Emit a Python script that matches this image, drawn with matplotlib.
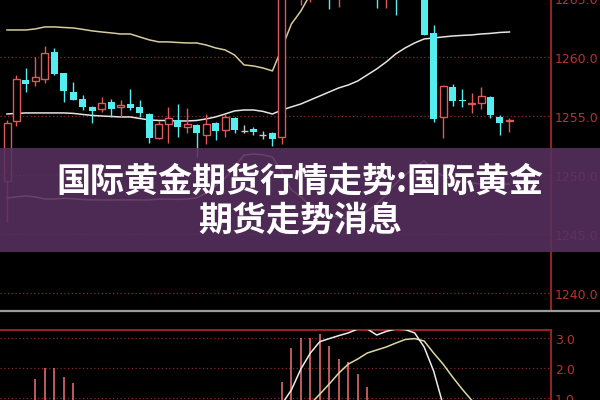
import matplotlib
matplotlib.use("Agg")
import matplotlib.pyplot as plt
from matplotlib.patches import Rectangle
from matplotlib.lines import Line2D
import numpy as np

# ── data ──────────────────────────────────────────────────────────────────────
opens = [1249.5, 1254.58, 1258.03, 1257.94, 1258.14, 1260.42, 1258.59, 1256.98, 1256.39, 1255.76,
         1255.54, 1256.19, 1255.71, 1255.99, 1255.71, 1255.14, 1253.08, 1254.30, 1254.64, 1254.07,
         1254.21, 1253.36, 1254.41, 1253.79, 1254.78, 1253.73, 1253.90, 1253.36, 1253.56, 1253.17,
         1266.8, 1265.5, 1266.5, 1268.0, 1268.5, 1266.8, 1268.6, 1269.5, 1268.8, 1269.0,
         1267.4, 1268.5, 1267.3, 1267.8, 1267.0, 1261.98, 1254.86, 1257.46, 1256.30, 1256.00,
         1256.05, 1256.61, 1254.86, 1254.55]
highs = [1254.6, 1258.48, 1259.02, 1259.95, 1260.91, 1260.76, 1258.62, 1257.88, 1256.75, 1255.80,
         1256.61, 1256.39, 1256.33, 1257.24, 1256.33, 1255.20, 1254.58, 1255.71, 1255.97, 1255.63,
         1254.25, 1255.14, 1254.45, 1255.14, 1254.92, 1254.21, 1254.07, 1253.70, 1253.60, 1267.0,
         1267.5, 1267.8, 1268.6, 1269.5, 1269.0, 1269.2, 1270.2, 1270.5, 1270.0, 1269.6,
         1269.3, 1269.0, 1268.7, 1268.4, 1267.3, 1262.69, 1257.60, 1257.69, 1257.24, 1256.90,
         1257.46, 1256.65, 1255.06, 1254.78]
lows = [1246.0, 1254.13, 1257.03, 1257.52, 1257.75, 1258.45, 1256.19, 1256.30, 1255.48, 1254.41,
        1255.34, 1254.86, 1254.92, 1255.48, 1254.86, 1252.71, 1253.00, 1252.66, 1253.22, 1253.56,
        1251.50, 1252.60, 1252.94, 1253.17, 1253.56, 1253.56, 1253.36, 1253.00, 1252.43, 1252.60,
        1265.2, 1264.4, 1264.6, 1267.0, 1264.0, 1264.2, 1267.8, 1268.0, 1267.5, 1264.1,
        1264.1, 1263.5, 1266.0, 1265.8, 1261.84, 1254.49, 1253.08, 1255.82, 1255.76, 1255.20,
        1255.54, 1254.78, 1253.36, 1253.64]
closes = [1254.4, 1258.11, 1257.66, 1258.31, 1260.29, 1258.53, 1257.12, 1256.33, 1255.71, 1255.42,
          1256.05, 1255.57, 1255.88, 1255.65, 1255.25, 1253.14, 1254.30, 1254.78, 1254.07, 1254.30,
          1253.51, 1254.30, 1253.73, 1254.86, 1253.79, 1253.73, 1253.62, 1253.36, 1253.00, 1266.5,
          1266.0, 1267.0, 1268.0, 1268.8, 1267.0, 1268.5, 1269.6, 1268.9, 1269.2, 1267.5,
          1268.6, 1267.2, 1268.0, 1267.0, 1261.84, 1254.69, 1257.52, 1256.25, 1256.20, 1256.10,
          1256.67, 1255.06, 1254.36, 1254.60]

boll_mid = [1255.14, 1255.19, 1255.23, 1255.23, 1255.23, 1255.23, 1255.23, 1255.19, 1255.10, 1255.02,
            1254.97, 1254.93, 1254.89, 1254.89, 1254.76, 1254.64, 1254.59, 1254.59, 1254.55, 1254.55,
            1254.59, 1254.72, 1254.89, 1255.14, 1255.40, 1255.48, 1255.48, 1255.36, 1255.14, 1255.48,
            1255.74, 1255.99, 1256.33, 1256.67, 1257.01, 1257.35, 1257.60, 1257.94, 1258.45, 1258.96,
            1259.55, 1260.23, 1260.74, 1261.16, 1261.50, 1261.58, 1261.67, 1261.75, 1261.80, 1261.84,
            1261.92, 1261.97, 1262.05, 1262.09]
boll_up = [1262.26, 1262.26, 1262.26, 1262.35, 1262.52, 1262.52, 1262.47, 1262.43, 1262.31, 1262.18,
           1262.09, 1262.01, 1261.92, 1261.92, 1261.67, 1261.42, 1261.25, 1261.25, 1261.20, 1261.16,
           1261.16, 1260.99, 1260.74, 1260.57, 1260.14, 1259.30, 1259.21, 1259.04, 1258.79, 1260.74,
           1262.77, 1263.87, 1265.3, 1266.5, 1267.5, 1268.3, 1269.0, 1269.5, 1270.0, 1270.4,
           1270.8, 1271.2, 1271.5, 1271.7, 1271.8, 1272.9, 1273.4, 1273.7, 1274.2, 1274.3,
           1274.6, 1274.7, 1274.9, 1275.0]
boll_dn = [1248.02, 1248.12, 1248.20, 1248.11, 1247.94, 1247.94, 1247.99, 1247.95, 1247.89, 1247.86,
           1247.85, 1247.85, 1247.86, 1247.86, 1247.85, 1247.86, 1247.93, 1247.93, 1247.90, 1247.94,
           1248.02, 1248.45, 1249.04, 1249.71, 1250.66, 1251.66, 1251.75, 1251.68, 1251.49, 1250.22,
           1248.71, 1248.11, 1247.36, 1246.84, 1246.52, 1246.40, 1246.20, 1246.38, 1246.90, 1247.50,
           1248.30, 1249.26, 1249.98, 1250.60, 1251.20, 1250.30, 1249.90, 1249.60, 1249.40, 1249.30,
           1249.20, 1249.20, 1249.20, 1249.20]

# lower indicator panel
ind_bar = [0.6, 0.8, 0.9, 1.63, 2.0, 2.0, 1.7, 1.5, 0.8, 0.5,
           0.4, 0.3, 0.3, 0.2, 0.2, 0.1, 0.1, 0.2, 0.2, 0.1,
           0.1, 0.2, 0.2, 0.3, 0.3, 0.2, 0.2, 0.3, 0.3, 1.53,
           2.67, 3.0, 3.0, 3.13, 2.73, 2.3, 2.2, 1.8, 1.37, 0.8,
           0.6, 0.5, 0.4, 0.3, 0.2, 0.1, 0.1, 0.2, 0.2, 0.1,
           0.1, 0.1, 0.1, 0.1]
ind_k = [0.5, 0.6, 0.7, 0.8, 0.85, 0.8, 0.7, 0.6, 0.5, 0.4,
         0.35, 0.3, 0.3, 0.3, 0.3, 0.25, 0.25, 0.3, 0.3, 0.3,
         0.3, 0.3, 0.3, 0.35, 0.35, 0.35, 0.35, 0.35, 0.4, 0.8,
         1.27, 1.97, 2.5, 2.88, 2.98, 3.08, 3.17, 3.3, 3.3, 3.1,
         3.22, 3.3, 3.28, 3.17, 2.7, 1.9, 0.77, 0.5, 0.4, 0.35,
         0.3, 0.3, 0.3, 0.3]
ind_d = [0.4, 0.45, 0.5, 0.55, 0.6, 0.65, 0.65, 0.6, 0.55, 0.5,
         0.45, 0.4, 0.4, 0.35, 0.35, 0.3, 0.3, 0.3, 0.3, 0.3,
         0.3, 0.3, 0.3, 0.3, 0.3, 0.3, 0.3, 0.3, 0.3, 0.35,
         0.45, 0.6, 0.8, 1.13, 1.47, 1.83, 2.13, 2.3, 2.5, 2.6,
         2.7, 2.83, 2.95, 2.98, 2.9, 2.5, 2.13, 1.7, 1.3, 0.93,
         0.7, 0.55, 0.45, 0.4]

price_levels = [1240.0, 1245.0, 1250.0, 1255.0, 1260.0, 1265.0]
ind_levels = [1.0, 2.0, 3.0]
title_lines = ["国际黄金期货行情走势:国际黄金", "期货走势消息"]

# ── colours ──────────────────────────────────────────────────────────────────
BG = "black"
UP = "#e05858"
DOWN = "#55eef0"
DOJI = "#c8c8c8"
AXRED = "#9a2222"
GRIDRED = "#8a2a2a"
LBLRED = "#b83232"

x = np.arange(len(opens))
o = np.array(opens); c = np.array(closes)
h = np.array(highs); l = np.array(lows)

fig = plt.figure(figsize=(6, 4), dpi=100, facecolor=BG)
ax = fig.add_axes([0, 0.225, 0.9183, 0.775], facecolor=BG)
ax2 = fig.add_axes([0, 0, 0.9183, 0.175], facecolor=BG)

for a in (ax, ax2):
    a.set_xlim(-0.74, 57.38)
    a.set_xticks([]); a.set_yticks([])
    for s in ("left", "bottom", "top"):
        a.spines[s].set_visible(False)
    a.spines["right"].set_color(AXRED)
    a.spines["right"].set_linewidth(1.4)
ax2.spines["top"].set_visible(True)
ax2.spines["top"].set_color(AXRED)
ax2.spines["top"].set_linewidth(1.4)

ax.set_ylim(1238.53, 1264.80)
ax2.set_ylim(0.933, 3.267)

# grid + right labels
for lv in price_levels:
    ax.axhline(lv, color=GRIDRED, lw=0.9, ls=(0, (1, 2)), zorder=1)
    ax.annotate(f"{lv:.1f}", xy=(1, lv), xycoords=("axes fraction", "data"),
                xytext=(3, -1.8), textcoords="offset points", va="center", ha="left",
                color=LBLRED, fontsize=9, annotation_clip=False)
for lv in ind_levels:
    ax2.axhline(lv, color=GRIDRED, lw=0.9, ls=(0, (1, 2)), zorder=1)
    ax2.annotate(f"{lv:.1f}", xy=(1, lv), xycoords=("axes fraction", "data"),
                 xytext=(3, -1.8), textcoords="offset points", va="center", ha="left",
                 color=LBLRED, fontsize=9, annotation_clip=False)

# bollinger lines
ax.plot(x, boll_up, color="#d6cc9e", lw=1.1, zorder=2)
ax.plot(x, boll_dn, color="#d6cc9e", lw=1.1, zorder=2)
ax.plot(x, boll_mid, color="#e4e4e4", lw=1.1, zorder=2)

# candles
up = c > o
dn = c < o
dj = c == o
w = 0.74
ax.vlines(x[up], l[up], h[up], color=UP, lw=1, zorder=3)
ax.bar(x[up], c[up] - o[up], bottom=o[up], width=w, facecolor=BG,
       edgecolor=UP, lw=1, zorder=4)
ax.vlines(x[dn], l[dn], h[dn], color=DOWN, lw=1, zorder=3)
ax.bar(x[dn], o[dn] - c[dn], bottom=c[dn], width=w, color=DOWN, lw=0, zorder=4)
ax.vlines(x[dj], l[dj], h[dj], color=DOJI, lw=1, zorder=3)
ax.hlines(c[dj], x[dj] - w / 2, x[dj] + w / 2, color=DOJI, lw=1, zorder=4)

# lower indicator
ax2.vlines(x, 0, ind_bar, color="#dc6a6a", lw=1.2, zorder=2)
ax2.plot(x, ind_d, color="#dcd8a2", lw=1.1, zorder=3)
ax2.plot(x, ind_k, color="#ececec", lw=1.1, zorder=3)

# separator
fig.add_artist(Line2D([0, 1], [0.2225, 0.2225], color="#9c9c9c", lw=1.6))

# purple overlay band with title
fig.add_artist(Rectangle((0, 0.37), 1, 0.26, transform=fig.transFigure,
                         facecolor="#58305f", alpha=0.88, lw=0, zorder=10))
fam = ["Noto Sans CJK SC", "DejaVu Sans"]
fig.text(0.5, 0.5475, title_lines[0], ha="center", va="center", color="white",
         fontsize=24.5, fontweight="bold", family=fam, zorder=11)
fig.text(0.5, 0.45, title_lines[1], ha="center", va="center", color="white",
         fontsize=24.5, fontweight="bold", family=fam, zorder=11)

fig.savefig("out.png", dpi=100, facecolor=BG)
